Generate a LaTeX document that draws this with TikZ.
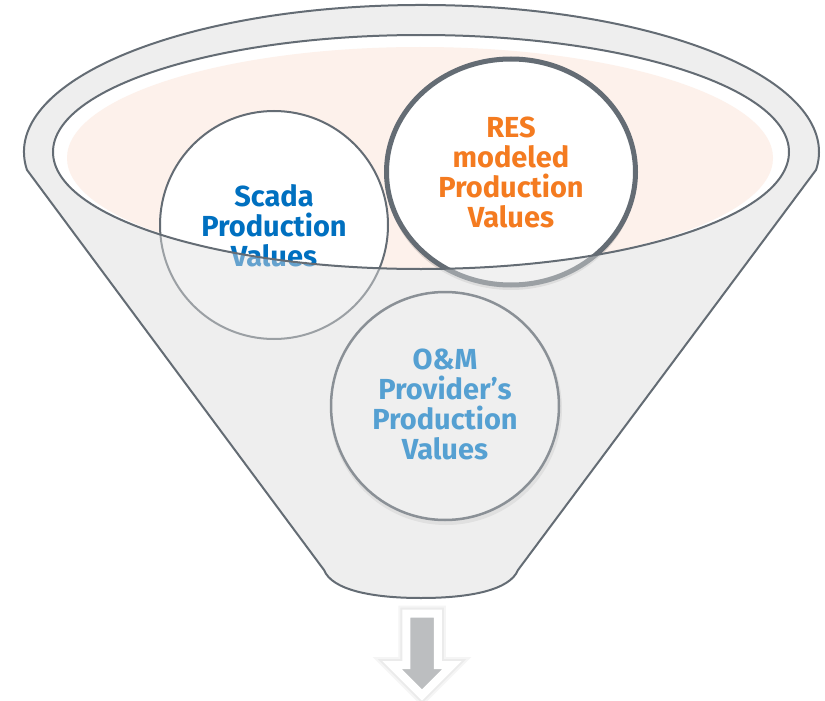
\documentclass[tikz,border=0pt]{standalone}
\usepackage{fontspec}
\setmainfont{Fira Sans}
\usetikzlibrary{shapes.geometric}
\definecolor{edgec}{HTML}{646C74}
\definecolor{funfill}{HTML}{EFEFEF}
\definecolor{funbase}{HTML}{FBFBFB}
\definecolor{funfront}{HTML}{E0E0E0}
\definecolor{peach}{HTML}{FDF1EB}
\definecolor{scadablue}{HTML}{0070C0}
\definecolor{resorange}{HTML}{F47B20}
\definecolor{omblue}{HTML}{55A0D2}
\definecolor{omedge}{HTML}{8A9096}
\definecolor{arrowgray}{HTML}{BCBEC0}
\newcommand\myfunnelpath{(26.96,169.9) arc[start angle=173, end angle=367, x radius=397.5, y radius=147] -- (518,570) .. controls (510,590) and (470,598) .. (421,598) .. controls (372,598) and (332,590) .. (324,570) -- cycle}
\newcommand\myarrowpath{(406.25,613.5) -- (437.75,613.5) -- (437.75,665) -- (452,665) -- (422,695) -- (392,665) -- (406.25,665) -- cycle}
\begin{document}
\begin{tikzpicture}[x=1pt,y=-1pt,
  txt/.style={font=\bfseries\fontsize{29}{30}\selectfont, align=center, inner sep=0pt},
  outline/.style={draw=edgec, line width=2pt}]
\useasboundingbox (0,0) rectangle (825,701);
% funnel body
\fill[funbase] \myfunnelpath;
% inner rim (white) and liquid (peach)
\fill[white] (421,152) ellipse[x radius=368, y radius=117];
\begin{scope}
  \clip (421,152) ellipse[x radius=368, y radius=117];
  \fill[peach] (420,158) ellipse[x radius=353, y radius=111];
\end{scope}
% circles inside the funnel
\node (scada) [circle, minimum size=228pt, inner sep=0pt, fill=white, draw=edgec, line width=2pt] at (274,225) {};
\node[txt, text=scadablue] (scadatxt) at (274,226) {Scada\\Production\\Values};
\fill[black, opacity=0.12] (511,177) ellipse[x radius=125, y radius=113];
\node (res) [ellipse, minimum width=249pt, minimum height=226pt, inner sep=0pt, fill=white, draw=edgec, line width=5pt] at (511,172) {};
\node[txt, text=resorange] (restxt) at (511,172) {RES\\modeled\\Production\\Values};
% front face of funnel (semi-transparent)
\fill[funfront, opacity=0.45, even odd rule] \myfunnelpath (421,152) ellipse[x radius=368, y radius=117];
% outlines
\draw[outline] \myfunnelpath;
\draw[outline] (421,152) ellipse[x radius=368, y radius=117];
% O&M circle
\fill[black, opacity=0.06] (446,409) circle[radius=116];
\node (om) [circle, minimum size=228pt, inner sep=0pt, fill=funfill, draw=omedge, line width=2.5pt] at (445,406) {};
\node[txt, text=omblue] (omtxt) at (445,404) {O\&M\\Provider’s\\Production\\Values};
% arrow below
\path[draw=black, draw opacity=0.04, line width=16pt, line join=miter] \myarrowpath;
\path[draw=black, draw opacity=0.04, line width=12pt, line join=miter] \myarrowpath;
\path[fill=arrowgray, draw=white, line width=8pt, line join=miter] \myarrowpath;
\end{tikzpicture}
\end{document}
